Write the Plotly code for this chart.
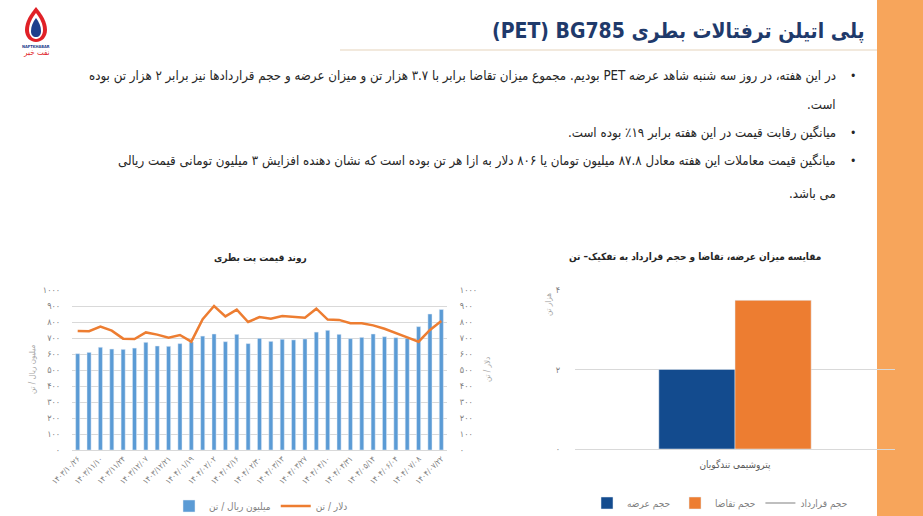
import plotly.graph_objects as go

W, H = 923, 516
FONT = "DejaVu Sans Condensed, DejaVu Sans"

def fa(s):
    return str(s).translate(str.maketrans("0123456789", "۰۱۲۳۴۵۶۷۸۹"))

def rtl(s):
    return "\u202B" + s + "\u202C"

def px(x):
    return x / W

def py(y):
    return 1 - y / H

# ---------------- data ----------------
dates = [
    "۱۴۰۳/۱۰/۲۶", "۱۴۰۳/۱۱/۰۳", "۱۴۰۳/۱۱/۱۰", "۱۴۰۳/۱۱/۱۷", "۱۴۰۳/۱۱/۲۴",
    "۱۴۰۳/۱۲/۰۱", "۱۴۰۳/۱۲/۰۷", "۱۴۰۳/۱۲/۱۴", "۱۴۰۳/۱۲/۲۱", "۱۴۰۴/۰۱/۱۲",
    "۱۴۰۴/۰۱/۱۹", "۱۴۰۴/۰۱/۲۶", "۱۴۰۴/۰۲/۰۲", "۱۴۰۴/۰۲/۰۹", "۱۴۰۴/۰۲/۱۶",
    "۱۴۰۴/۰۲/۲۳", "۱۴۰۴/۰۲/۳۰", "۱۴۰۴/۰۳/۰۶", "۱۴۰۴/۰۳/۱۳", "۱۴۰۴/۰۳/۲۰",
    "۱۴۰۴/۰۳/۲۷", "۱۴۰۴/۰۴/۰۳", "۱۴۰۴/۰۴/۱۰", "۱۴۰۴/۰۴/۱۷", "۱۴۰۴/۰۴/۳۱",
    "۱۴۰۴/۰۵/۰۷", "۱۴۰۴/۰۵/۱۴", "۱۴۰۴/۰۵/۲۸", "۱۴۰۴/۰۶/۰۴", "۱۴۰۴/۰۶/۲۵",
    "۱۴۰۴/۰۷/۰۸", "۱۴۰۴/۰۷/۱۵", "۱۴۰۴/۰۷/۲۲",
]
rial_price = [602, 610, 642, 631, 629, 637, 673, 650, 648, 665, 675, 712, 725,
              677, 723, 665, 698, 679, 692, 688, 694, 737, 748, 723, 696, 704,
              725, 708, 702, 698, 771, 850, 878]
usd_price = [744, 742, 771, 746, 696, 694, 735, 721, 702, 719, 677, 817, 900,
             835, 877, 800, 831, 821, 838, 831, 827, 883, 815, 813, 792, 792,
             779, 758, 729, 704, 677, 750, 806]

price_ticks = [0, 100, 200, 300, 400, 500, 600, 700, 800, 900, 1000]

producers = ["پتروشیمی تندگویان"]
supply = [2.0]
demand = [3.74]
contract = [2.0]
vol_ticks = [0, 2, 4]

series_rial = "میلیون ریال / تن"
series_usd = "دلار / تن"

title = "(PET) BG785 " + "پلی اتیلن ترفتالات بطری"
bullets = [
    ("در این هفته، در روز سه شنبه شاهد عرضه PET بودیم. مجموع میزان تقاضا برابر با ۳.۷ هزار تن و میزان عرضه و حجم قراردادها نیز برابر ۲ هزار تن بوده", 76, True),
    ("است.", 104, False),
    ("میانگین رقابت قیمت در این هفته برابر ۱۹٪ بوده است.", 133, True),
    ("میانگین قیمت معاملات این هفته معادل ۸۷.۸ میلیون تومان یا ۸۰۶ دلار به ازا هر تن بوده است که نشان دهنده افزایش ۳ میلیون تومانی قیمت ریالی", 161, True),
    ("می باشد.", 193, False),
]

# ---------------- figure ----------------
fig = go.Figure()

fig.add_trace(go.Bar(
    x=dates, y=rial_price, name=series_rial, marker_color="#5B9BD5",
    xaxis="x", yaxis="y", legend="legend",
))
fig.add_trace(go.Scatter(
    x=dates, y=usd_price, name=series_usd, mode="lines",
    line=dict(color="#ED7D31", width=2.5),
    xaxis="x", yaxis="y2", legend="legend",
))

fig.add_trace(go.Bar(
    x=producers, y=supply, name="حجم عرضه", marker_color="#134B8E",
    width=0.238, offset=-0.238,
    xaxis="x3", yaxis="y3", legend="legend2",
))
fig.add_trace(go.Bar(
    x=producers, y=demand, name="حجم تقاضا", marker_color="#ED7D31",
    width=0.238, offset=0.0,
    xaxis="x3", yaxis="y3", legend="legend2",
))
fig.add_trace(go.Scatter(
    x=producers, y=contract, name="حجم قرارداد", mode="lines",
    line=dict(color="#BFBFBF", width=2),
    xaxis="x3", yaxis="y3", legend="legend2",
))

tick_font = dict(family=FONT, size=9, color="#7F7F7F")

fig.update_layout(
    width=W, height=H,
    margin=dict(l=0, r=0, t=0, b=0, autoexpand=False),
    paper_bgcolor="white", plot_bgcolor="rgba(0,0,0,0)",
    font=dict(family=FONT, color="#404040"),
    barmode="group",
    bargap=0.64,
    showlegend=True,
    xaxis=dict(
        domain=[px(72), px(447)], anchor="y", type="category", automargin=False,
        range=[-0.5, len(dates) - 0.5],
        tickmode="array", tickvals=dates[::2], ticktext=dates[::2],
        tickangle=-45, tickfont=dict(family=FONT, size=8, color="#7F7F7F"),
        showgrid=False, showline=True, linecolor="#D9D9D9", ticks="",
        fixedrange=True,
    ),
    yaxis=dict(
        domain=[py(450), py(290)], anchor="x", range=[0, 1000], automargin=False,
        tickmode="array", tickvals=price_ticks,
        ticktext=[fa(v) for v in price_ticks],
        tickfont=tick_font, gridcolor="#D9D9D9", gridwidth=1,
        zeroline=False, showline=False,
        ticks="outside", ticklen=9, tickcolor="rgba(0,0,0,0)",
    ),
    yaxis2=dict(
        domain=[py(450), py(290)], anchor="x", overlaying="y", side="right",
        automargin=False,
        range=[0, 1000], tickmode="array", tickvals=price_ticks,
        ticktext=[fa(v) for v in price_ticks],
        tickfont=tick_font, showgrid=False, zeroline=False, showline=False,
        ticks="outside", ticklen=10, tickcolor="rgba(0,0,0,0)",
    ),
    xaxis3=dict(
        domain=[px(575), px(895)], anchor="y3", type="category", automargin=False,
        range=[-0.5, 0.5],
        tickfont=dict(family=FONT, size=10, color="#595959"),
        showgrid=False, showline=True, linecolor="#D9D9D9",
        ticks="outside", ticklen=6, tickcolor="rgba(0,0,0,0)",
    ),
    yaxis3=dict(
        domain=[py(449), py(290)], anchor="x3", range=[0, 4], automargin=False,
        tickmode="array", tickvals=vol_ticks,
        ticktext=[fa(v) for v in vol_ticks],
        tickfont=tick_font, gridcolor="#D9D9D9", gridwidth=1,
        zeroline=False, showline=False,
        ticks="outside", ticklen=12, tickcolor="rgba(0,0,0,0)",
    ),
    legend=dict(
        orientation="h", x=px(261), y=py(506), xanchor="center", yanchor="middle",
        font=dict(family=FONT, size=10, color="#7F7F7F"),
        bgcolor="rgba(0,0,0,0)", itemwidth=30, tracegroupgap=0,
    ),
    legend2=dict(
        orientation="h", x=px(720), y=py(503), xanchor="center", yanchor="middle",
        font=dict(family=FONT, size=10, color="#7F7F7F"),
        bgcolor="rgba(0,0,0,0)", itemwidth=30, tracegroupgap=0,
    ),
)

shapes = [
    # orange side band
    dict(type="rect", xref="paper", yref="paper", x0=px(877), x1=1, y0=0, y1=1,
         fillcolor="#F7A55B", line_width=0, layer="below"),
    # title underline
    dict(type="line", xref="paper", yref="paper", x0=px(340), x1=px(877),
         y0=py(50), y1=py(50), line=dict(color="#E6D3BC", width=1.2)),
]

def logo_path(pts):
    s = "M {:.5f},{:.5f}".format(px(pts[0][0]), py(pts[0][1]))
    for i in range(1, len(pts), 3):
        a, b, c = pts[i], pts[i + 1], pts[i + 2]
        s += " C {:.5f},{:.5f} {:.5f},{:.5f} {:.5f},{:.5f}".format(
            px(a[0]), py(a[1]), px(b[0]), py(b[1]), px(c[0]), py(c[1]))
    return s + " Z"

outer = [(36, 7), (42, 14), (47, 22), (47, 30), (47, 37), (42, 42), (36, 42),
         (30, 42), (25, 37), (25, 30), (25, 22), (30, 14), (36, 7)]
white = [(36, 13), (40, 18), (43, 24), (43, 30), (43, 35), (40, 39), (36, 39),
         (32, 39), (29, 35), (29, 30), (29, 24), (32, 18), (36, 13)]
inner = [(36, 18), (39, 22), (41, 26), (41, 31), (41, 35), (39, 37), (36, 37),
         (33, 37), (31, 35), (31, 31), (31, 26), (33, 22), (36, 18)]
shapes += [
    dict(type="path", xref="paper", yref="paper", path=logo_path(outer),
         fillcolor="#E02127", line_width=0),
    dict(type="path", xref="paper", yref="paper", path=logo_path(white),
         fillcolor="white", line_width=0),
    dict(type="path", xref="paper", yref="paper", path=logo_path(inner),
         fillcolor="#1E3E8C", line_width=0),
]
fig.update_layout(shapes=shapes)

ann = []
ann.append(dict(text="<b>" + title + "</b>", x=px(867), y=py(31), xref="paper", yref="paper",
                xanchor="right", yanchor="middle", showarrow=False,
                font=dict(family=FONT, size=21, color="#1F3A6B")))
ann.append(dict(text="<b>NAFTKHABAR</b>", x=px(36), y=py(46), xref="paper", yref="paper",
                xanchor="center", yanchor="middle", showarrow=False,
                font=dict(family=FONT, size=4, color="#1E3E8C")))
ann.append(dict(text="نفت خبر", x=px(36), y=py(53), xref="paper", yref="paper",
                xanchor="center", yanchor="middle", showarrow=False,
                font=dict(family=FONT, size=8, color="#E02127")))

for text, y, bullet in bullets:
    ann.append(dict(text=rtl(text), x=px(838), y=py(y), xref="paper", yref="paper",
                    xanchor="right", yanchor="middle", showarrow=False,
                    font=dict(family=FONT, size=13.2, color="#262626")))
    if bullet:
        ann.append(dict(text="•", x=px(853), y=py(y), xref="paper", yref="paper",
                        xanchor="center", yanchor="middle", showarrow=False,
                        font=dict(family=FONT, size=12, color="#262626")))

ann.append(dict(text="<b>" + rtl("روند قیمت پت بطری") + "</b>", x=px(260), y=py(258),
                xref="paper", yref="paper", xanchor="center", yanchor="middle",
                showarrow=False, font=dict(family=FONT, size=10, color="#262626")))
ann.append(dict(text="<b>" + rtl("مقایسه میزان عرضه، تقاضا و حجم قرارداد به تفکیک– تن") + "</b>",
                x=px(695), y=py(257), xref="paper", yref="paper", xanchor="center",
                yanchor="middle", showarrow=False,
                font=dict(family=FONT, size=10, color="#262626")))
ann.append(dict(text=series_rial, x=px(32), y=py(370), xref="paper", yref="paper",
                xanchor="center", yanchor="middle", showarrow=False, textangle=-90,
                font=dict(family=FONT, size=8, color="#A6A6A6")))
ann.append(dict(text=series_usd, x=px(487), y=py(370), xref="paper", yref="paper",
                xanchor="center", yanchor="middle", showarrow=False, textangle=-90,
                font=dict(family=FONT, size=8, color="#A6A6A6")))
ann.append(dict(text="هزار تن", x=px(548), y=py(305), xref="paper", yref="paper",
                xanchor="center", yanchor="middle", showarrow=False, textangle=-90,
                font=dict(family=FONT, size=8, color="#A6A6A6")))
fig.update_layout(annotations=ann)

fig.write_html(
    "out.html",
    config={"displayModeBar": False},
    post_script="document.body.style.margin='0';document.body.style.overflow='hidden';",
)
